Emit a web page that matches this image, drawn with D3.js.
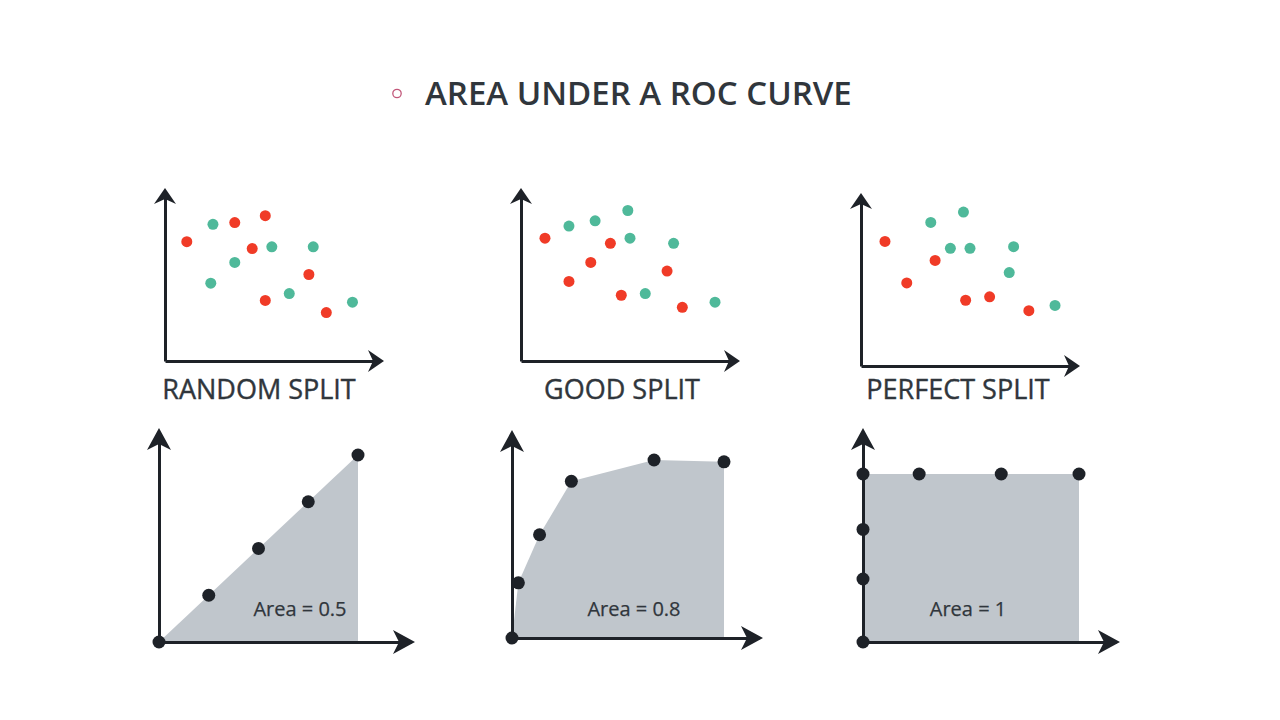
<!DOCTYPE html>
<html>
<head>
<meta charset="utf-8">
<script src="https://cdn.jsdelivr.net/npm/d3@7"></script>
<style>
  html, body { margin: 0; padding: 0; background: #fff; }
  svg { display: block; font-family: 'Open Sans', sans-serif; }
</style>
</head>
<body>
<svg id="chart" width="1280" height="720"></svg>
<script>
// scatter panels: [x, y] on a 0..10 grid
const splitTitles = ['RANDOM SPLIT', 'GOOD SPLIT', 'PERFECT SPLIT'];
const randomRed = [[1.0, 6.9], [3.2, 8.0], [4.6, 8.4], [4.0, 6.5], [6.6, 5.0], [4.6, 3.5], [7.4, 2.8]];
const randomTeal = [[2.2, 7.9], [4.9, 6.6], [6.8, 6.6], [3.2, 5.7], [2.1, 4.5], [5.7, 3.9], [8.6, 3.4]];
const goodRed = [[1.1, 7.1], [4.1, 6.8], [3.2, 5.7], [2.2, 4.6], [6.7, 5.2], [4.6, 3.8], [7.4, 3.1]];
const goodTeal = [[2.2, 7.8], [3.4, 8.1], [4.9, 8.7], [5.0, 7.1], [7.0, 6.8], [5.7, 3.9], [8.9, 3.4]];
const perfectRed = [[1.1, 7.2], [3.4, 6.1], [2.1, 4.8], [4.8, 3.8], [5.9, 4.0], [7.7, 3.2]];
const perfectTeal = [[3.2, 8.3], [4.7, 8.9], [4.1, 6.8], [5.0, 6.8], [7.0, 6.9], [6.8, 5.4], [8.9, 3.5]];

// ROC panels: [false positive rate, true positive rate]
const areaLabels = ['Area = 0.5', 'Area = 0.8', 'Area = 1'];
const rocRandom = [[0, 0], [0.25, 0.25], [0.5, 0.5], [0.75, 0.75], [1, 1]];
const rocGood = [[0, 0], [0.03, 0.31], [0.13, 0.58], [0.28, 0.88], [0.67, 1.0], [1, 0.99]];
const rocPerfect = [[0, 0], [0, 0.375], [0, 0.67], [0, 1], [0.26, 1], [0.64, 1], [1, 1]];

const scatterData = [
    { red: randomRed, teal: randomTeal },
    { red: goodRed, teal: goodTeal },
    { red: perfectRed, teal: perfectTeal },
];
const rocData = [rocRandom, rocGood, rocPerfect];

// layout (pixels)
const scatterLayout = [
    { ox: 165, oy: 361, labelX: 259 },
    { ox: 521, oy: 361, labelX: 622 },
    { ox: 861, oy: 366, labelX: 958 },
];
const rocLayout = [
    { ox: 159, oy: 642, w: 199, h: 187, axW: 256, axH: 214, labelX: 300 },
    { ox: 512, oy: 638, w: 212, h: 178, axW: 251, axH: 208, labelX: 634 },
    { ox: 863, oy: 642, w: 216, h: 168, axW: 257, axH: 214, labelX: 968 },
];

const ink = '#1e2228';
const textColor = '#30363c';
const red = '#f03b27';
const teal = '#4fb99a';
const fill = '#c0c6cc';

const svg = d3.select('#chart');

// title
svg.append('circle')
    .attr('cx', 397)
    .attr('cy', 93.5)
    .attr('r', 4.2)
    .attr('fill', 'none')
    .attr('stroke', '#c2587a')
    .attr('stroke-width', 1.3);
svg.append('text')
    .attr('x', 425)
    .attr('y', 104.5)
    .attr('font-size', 33)
    .attr('font-weight', 600)
    .attr('fill', textColor)
    .text('AREA UNDER A ROC CURVE');

function arrowPath(len, half, notch) {
    return `M0,0L${-len},${-half}L${-len + notch},0L${-len},${half}Z`;
}

function drawAxes(g, xLen, yLen, len, half, notch) {
    const xAxisScale = d3.scaleLinear().domain([0, 1]).range([0, xLen - 4]);
    const yAxisScale = d3.scaleLinear().domain([0, 1]).range([0, -(yLen - 4)]);
    g.append('g')
        .call(d3.axisBottom(xAxisScale).tickValues([]).tickSizeOuter(0))
        .call((a) => a.select('.domain').attr('stroke', ink).attr('stroke-width', 3));
    g.append('g')
        .call(d3.axisLeft(yAxisScale).tickValues([]).tickSizeOuter(0))
        .call((a) => a.select('.domain').attr('stroke', ink).attr('stroke-width', 3));
    g.append('path')
        .attr('d', arrowPath(len, half, notch))
        .attr('transform', `translate(${xLen},0)`)
        .attr('fill', ink);
    g.append('path')
        .attr('d', arrowPath(len, half, notch))
        .attr('transform', `translate(0,${-yLen}) rotate(-90)`)
        .attr('fill', ink);
}

// scatter panels
scatterData.forEach((d, i) => {
    const L = scatterLayout[i];
    const g = svg.append('g').attr('transform', `translate(${L.ox},${L.oy})`);
    const x = d3.scaleLinear().domain([0, 10]).range([0, 218]);
    const y = d3.scaleLinear().domain([0, 10]).range([0, -173]);

    drawAxes(g, 219, 173, 16, 11, 5);

    [['red', red], ['teal', teal]].forEach(([key, color]) => {
        g.append('g')
            .selectAll('circle')
            .data(d[key])
            .join('circle')
            .attr('cx', (p) => x(p[0]))
            .attr('cy', (p) => y(p[1]))
            .attr('r', 5.5)
            .attr('fill', color);
    });

    svg.append('text')
        .attr('x', L.labelX)
        .attr('y', 398.5)
        .attr('text-anchor', 'middle')
        .attr('font-size', 27)
        .attr('stroke', textColor)
        .attr('stroke-width', 0.4)
        .attr('fill', textColor)
        .text(splitTitles[i]);
});

// ROC panels
rocData.forEach((pts, i) => {
    const L = rocLayout[i];
    const g = svg.append('g').attr('transform', `translate(${L.ox},${L.oy})`);
    const x = d3.scaleLinear().domain([0, 1]).range([0, L.w]);
    const y = d3.scaleLinear().domain([0, 1]).range([0, -L.h]);

    const area = d3.area()
        .x((p) => x(p[0]))
        .y0(y(0))
        .y1((p) => y(p[1]));
    g.append('path')
        .datum(pts.concat([[1, pts[pts.length - 1][1]]]))
        .attr('d', area)
        .attr('fill', fill);

    g.append('text')
        .attr('x', L.labelX - L.ox)
        .attr('y', 616 - L.oy)
        .attr('text-anchor', 'middle')
        .attr('font-size', 20)
        .attr('stroke', textColor)
        .attr('stroke-width', 0.25)
        .attr('fill', textColor)
        .text(areaLabels[i]);

    drawAxes(g, L.axW, L.axH, 22, 12, 6);

    g.append('g')
        .selectAll('circle')
        .data(pts)
        .join('circle')
        .attr('cx', (p) => x(p[0]))
        .attr('cy', (p) => y(p[1]))
        .attr('r', 6.5)
        .attr('fill', ink);
});
</script>
</body>
</html>
